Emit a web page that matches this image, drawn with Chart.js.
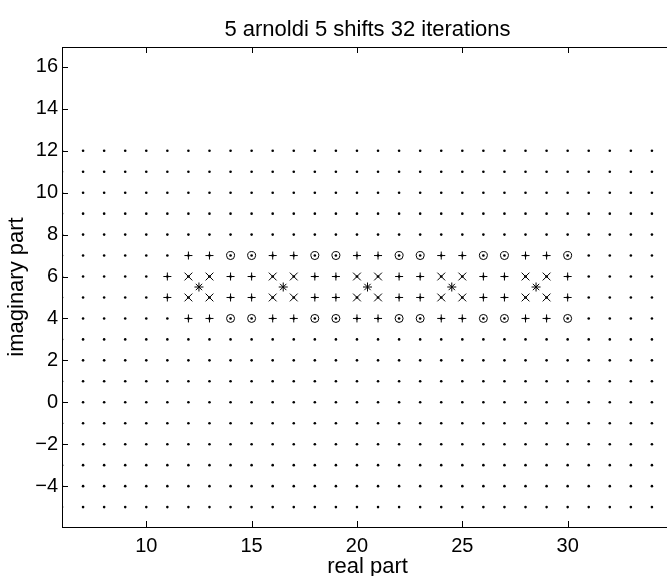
<!DOCTYPE html>
<html>
<head>
<meta charset="utf-8">
<script src="https://cdn.jsdelivr.net/npm/chart.js@4.4.0/dist/chart.umd.min.js"></script>
<style>
html, body { margin: 0; padding: 0; background: #fff; overflow: hidden; }
#wrap { width: 700px; height: 576px; }
</style>
</head>
<body>
<div id="wrap"><canvas id="eig" width="700" height="576"></canvas></div>
<script>
// 格子点 (実部・虚部)
const gridX = [6, 7, 8, 9, 10, 11, 12, 13, 14, 15, 16, 17, 18, 19, 20, 21, 22, 23, 24, 25, 26, 27, 28, 29, 30, 31, 32, 33, 34];
const gridY = [-5, -4, -3, -2, -1, 0, 1, 2, 3, 4, 5, 6, 7, 8, 9, 10, 11, 12];

// 外側の行 (虚部 4, 7) と内側の行 (虚部 5, 6)
const outerRowsY = [4, 7];
const innerRowsY = [5, 6];

const plusOuterX = [12, 13, 16, 17, 20, 21, 24, 25, 28, 29];
const plusInnerX = [11, 14, 15, 18, 19, 22, 23, 26, 27, 30];
const circleX = [14, 15, 18, 19, 22, 23, 26, 27, 30];
const crossX = [12, 13, 16, 17, 20, 21, 24, 25, 28, 29];

// シフト
const shiftX = [12.5, 16.5, 20.5, 24.5, 28.5];
const shiftY = [5.5];

// 目盛り
const xTicks = [10, 15, 20, 25, 30];
const yTicks = [-4, -2, 0, 2, 4, 6, 8, 10, 12, 14, 16];

const toPoints = (xs, ys) => ys.flatMap(y => xs.map(x => ({ x, y })));

const family = '"Liberation Sans", Arial, Helvetica, sans-serif';
const tickFont = { family: family, size: 20 };
const labelFont = { family: family, size: 22 };

// 枠線と内向きの目盛り
const framePlugin = {
    id: 'frame',
    afterDraw(chart) {
        const { ctx, chartArea: a, scales: { x, y } } = chart;
        const len = 6;
        ctx.save();
        ctx.strokeStyle = '#000';
        ctx.lineWidth = 1;
        ctx.strokeRect(a.left + 0.5, a.top + 0.5, a.right - a.left, a.bottom - a.top);
        ctx.beginPath();
        x.ticks.forEach(t => {
            const px = Math.round(x.getPixelForValue(t.value)) + 0.5;
            ctx.moveTo(px, a.bottom); ctx.lineTo(px, a.bottom - len);
            ctx.moveTo(px, a.top); ctx.lineTo(px, a.top + len);
        });
        y.ticks.forEach(t => {
            const py = Math.round(y.getPixelForValue(t.value)) + 0.5;
            ctx.moveTo(a.left, py); ctx.lineTo(a.left + len, py);
            ctx.moveTo(a.right, py); ctx.lineTo(a.right - len, py);
        });
        ctx.stroke();
        ctx.restore();
    }
};

const ctx = document.getElementById('eig').getContext('2d');
new Chart(ctx, {
    type: 'scatter',
    data: {
        datasets: [
            {
                label: 'shift',
                data: toPoints(shiftX, shiftY),
                pointStyle: 'star',
                pointRadius: 4.5,
                borderColor: '#000',
                borderWidth: 1,
                order: 0
            },
            {
                label: 'x',
                data: toPoints(crossX, innerRowsY),
                pointStyle: 'crossRot',
                pointRadius: 5.5,
                borderColor: '#000',
                borderWidth: 1,
                order: 1
            },
            {
                label: 'o',
                data: toPoints(circleX, outerRowsY),
                pointStyle: 'circle',
                pointRadius: 4,
                backgroundColor: 'rgba(0,0,0,0)',
                borderColor: '#000',
                borderWidth: 1,
                order: 2
            },
            {
                label: '+',
                data: toPoints(plusOuterX, outerRowsY).concat(toPoints(plusInnerX, innerRowsY)),
                pointStyle: 'cross',
                pointRadius: 4,
                borderColor: '#000',
                borderWidth: 1,
                order: 3
            },
            {
                label: 'grid',
                data: toPoints(gridX, gridY),
                pointStyle: 'circle',
                pointRadius: 1.3,
                backgroundColor: '#000',
                borderColor: '#000',
                borderWidth: 0,
                order: 4
            }
        ]
    },
    options: {
        responsive: false,
        maintainAspectRatio: false,
        devicePixelRatio: 1,
        animation: false,
        events: [],
        layout: { padding: { left: 0, right: 27, top: 0, bottom: 0 } },
        scales: {
            x: {
                type: 'linear',
                min: 6,
                max: 35,
                afterBuildTicks: s => { s.ticks = xTicks.map(v => ({ value: v })); },
                afterFit: s => { s.height = 49; },
                grid: { display: false, drawTicks: false },
                border: { display: false },
                ticks: { color: '#000', font: tickFont, padding: 7, maxRotation: 0, autoSkip: false },
                title: {
                    display: true,
                    text: 'real part',
                    color: '#000',
                    font: { ...labelFont, lineHeight: 1 },
                    padding: { top: 0, bottom: -2 }
                }
            },
            y: {
                type: 'linear',
                min: -5.95,
                max: 16.95,
                afterBuildTicks: s => { s.ticks = yTicks.map(v => ({ value: v })); },
                afterFit: s => { s.width = 62; },
                grid: { display: false, drawTicks: false },
                border: { display: false },
                ticks: {
                    color: '#000', font: tickFont, padding: 4, autoSkip: false,
                    callback: v => v < 0 ? '\u2212' + Math.abs(v) : String(v)
                },
                title: {
                    display: true,
                    text: 'imaginary part',
                    color: '#000',
                    font: { ...labelFont, lineHeight: 1.2 },
                    padding: { top: 4, bottom: 0 }
                }
            }
        },
        plugins: {
            legend: { display: false },
            tooltip: { enabled: false },
            title: {
                display: true,
                text: '5 arnoldi 5 shifts 32 iterations',
                color: '#000',
                font: { ...labelFont, weight: 'normal', lineHeight: 1.2 },
                fullSize: false,
                padding: { top: 17, bottom: 3.6 }
            }
        }
    },
    plugins: [framePlugin]
});
</script>
</body>
</html>
